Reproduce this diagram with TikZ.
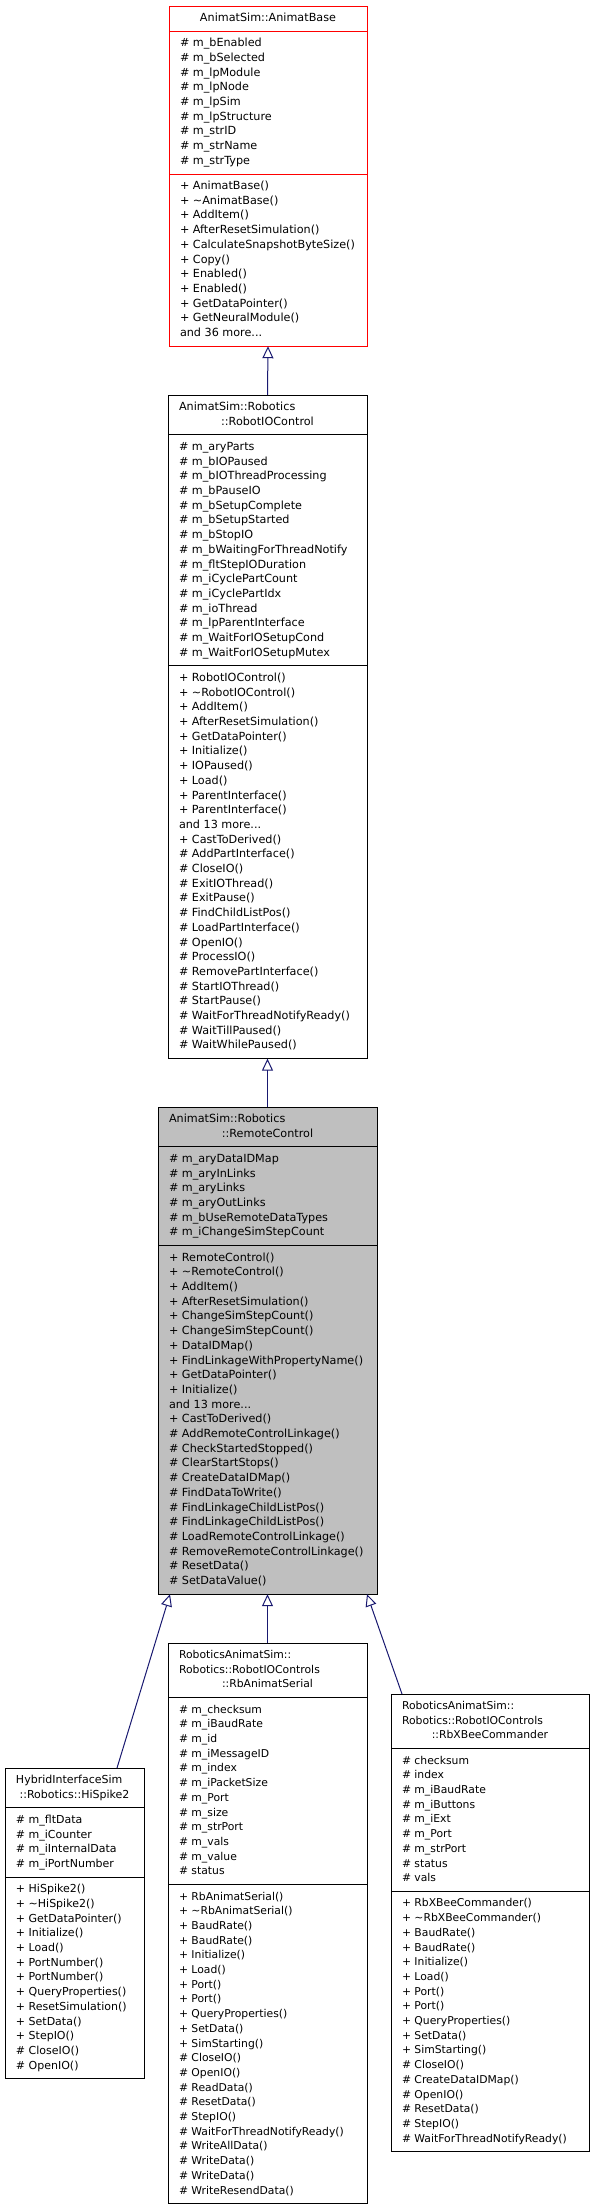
\documentclass[tikz,border=0pt]{standalone}
\usepackage{fontspec}
\newfontfamily\dxfont{DejaVu Sans}
\usetikzlibrary{arrows.meta,calc}
\definecolor{dxblue}{RGB}{25,25,112}
\definecolor{dxgray}{RGB}{191,191,191}
\newcommand\tld{\textasciitilde}
\begin{document}
\begin{tikzpicture}[x=1pt,y=-1pt,
  comp/.style={draw=black, line width=1pt, inner sep=0pt, outer sep=0pt, anchor=north west, minimum width=#1},
  redcomp/.style={comp=#1, draw=red},
  graycomp/.style={comp=#1, fill=dxgray},
  txt/.style={anchor=north west, inner sep=0pt, outer sep=0pt, align=left},
  ctxt/.style={anchor=north, inner sep=0pt, outer sep=0pt},
  fa/.style={font=\dxfont\fontsize{11.2}{14.7}\selectfont},
  fd/.style={font=\dxfont\fontsize{10.8}{14.7}\selectfont},
  fe/.style={font=\dxfont\fontsize{11}{14.7}\selectfont},
  inh/.style={draw=dxblue, line width=1pt, -{Triangle[open, length=12pt, width=11pt]}}
]
\useasboundingbox (0,0) rectangle (595,2209);

% ---------- AnimatBase ----------
\node[redcomp=198, minimum height=25.2] (At) at (169,6) {};
\node[redcomp=198, minimum height=142.8] (Aa) at (At.south west) {};
\node[redcomp=198, minimum height=172.2] (Am) at (Aa.south west) {};
\node[fa, ctxt] (Att) at ($(At.north)+(0,5.25)$) {\strut AnimatSim::AnimatBase};
\node[fa, txt] (Aat) at ($(Aa.north west)+(11,5.25)$) {\strut\# m\_bEnabled\\\# m\_bSelected\\\# m\_lpModule\\\# m\_lpNode\\\# m\_lpSim\\\# m\_lpStructure\\\# m\_strID\\\# m\_strName\\\# m\_strType};
\node[fa, txt] (Amt) at ($(Am.north west)+(11,5.25)$) {\strut + AnimatBase()\\+ \tld AnimatBase()\\+ AddItem()\\+ AfterResetSimulation()\\+ CalculateSnapshotByteSize()\\+ Copy()\\+ Enabled()\\+ Enabled()\\+ GetDataPointer()\\+ GetNeuralModule()\\and 36 more...};

% ---------- RobotIOControl ----------
\node[comp=199, minimum height=39.9] (Bt) at (168,395) {};
\node[comp=199, minimum height=231] (Ba) at (Bt.south west) {};
\node[comp=199, minimum height=392.7] (Bm) at (Ba.south west) {};
\node[fa, txt] (Btt) at ($(Bt.north west)+(11,5.25)$) {\strut AnimatSim::Robotics};
\node[fa, ctxt] (Btc) at ($(Bt.north)+(0,19.95)$) {\strut ::RobotIOControl};
\node[fa, txt] (Bat) at ($(Ba.north west)+(11,5.25)$) {\strut\# m\_aryParts\\\# m\_bIOPaused\\\# m\_bIOThreadProcessing\\\# m\_bPauseIO\\\# m\_bSetupComplete\\\# m\_bSetupStarted\\\# m\_bStopIO\\\# m\_bWaitingForThreadNotify\\\# m\_fltStepIODuration\\\# m\_iCyclePartCount\\\# m\_iCyclePartIdx\\\# m\_ioThread\\\# m\_lpParentInterface\\\# m\_WaitForIOSetupCond\\\# m\_WaitForIOSetupMutex};
\node[fa, txt] (Bmt) at ($(Bm.north west)+(11,5.25)$) {\strut + RobotIOControl()\\+ \tld RobotIOControl()\\+ AddItem()\\+ AfterResetSimulation()\\+ GetDataPointer()\\+ Initialize()\\+ IOPaused()\\+ Load()\\+ ParentInterface()\\+ ParentInterface()\\and 13 more...\\+ CastToDerived()\\\# AddPartInterface()\\\# CloseIO()\\\# ExitIOThread()\\\# ExitPause()\\\# FindChildListPos()\\\# LoadPartInterface()\\\# OpenIO()\\\# ProcessIO()\\\# RemovePartInterface()\\\# StartIOThread()\\\# StartPause()\\\# WaitForThreadNotifyReady()\\\# WaitTillPaused()\\\# WaitWhilePaused()};

% ---------- RemoteControl ----------
\node[graycomp=219, minimum height=39.9] (Ct) at (158,1107) {};
\node[graycomp=219, minimum height=98.7] (Ca) at (Ct.south west) {};
\node[graycomp=219, minimum height=348.6] (Cm) at (Ca.south west) {};
\node[fa, txt] (Ctt) at ($(Ct.north west)+(11,5.25)$) {\strut AnimatSim::Robotics};
\node[fa, ctxt] (Ctc) at ($(Ct.north)+(0,19.95)$) {\strut ::RemoteControl};
\node[fa, txt] (Cat) at ($(Ca.north west)+(11,5.25)$) {\strut\# m\_aryDataIDMap\\\# m\_aryInLinks\\\# m\_aryLinks\\\# m\_aryOutLinks\\\# m\_bUseRemoteDataTypes\\\# m\_iChangeSimStepCount};
\node[fa, txt] (Cmt) at ($(Cm.north west)+(11,5.25)$) {\strut + RemoteControl()\\+ \tld RemoteControl()\\+ AddItem()\\+ AfterResetSimulation()\\+ ChangeSimStepCount()\\+ ChangeSimStepCount()\\+ DataIDMap()\\+ FindLinkageWithPropertyName()\\+ GetDataPointer()\\+ Initialize()\\and 13 more...\\+ CastToDerived()\\\# AddRemoteControlLinkage()\\\# CheckStartedStopped()\\\# ClearStartStops()\\\# CreateDataIDMap()\\\# FindDataToWrite()\\\# FindLinkageChildListPos()\\\# FindLinkageChildListPos()\\\# LoadRemoteControlLinkage()\\\# RemoveRemoteControlLinkage()\\\# ResetData()\\\# SetDataValue()};

% ---------- RbAnimatSerial ----------
\node[comp=199, minimum height=54.6] (Dt) at (168,1643) {};
\node[comp=199, minimum height=186.9] (Da) at (Dt.south west) {};
\node[comp=199, minimum height=319.2] (Dm) at (Da.south west) {};
\node[fd, txt] (Dtt) at ($(Dt.north west)+(11,5.25)$) {\strut RoboticsAnimatSim::\\Robotics::RobotIOControls};
\node[fd, ctxt] (Dtc) at ($(Dt.north)+(0,34.65)$) {\strut ::RbAnimatSerial};
\node[fd, txt] (Dat) at ($(Da.north west)+(11,5.25)$) {\strut\# m\_checksum\\\# m\_iBaudRate\\\# m\_id\\\# m\_iMessageID\\\# m\_index\\\# m\_iPacketSize\\\# m\_Port\\\# m\_size\\\# m\_strPort\\\# m\_vals\\\# m\_value\\\# status};
\node[fd, txt] (Dmt) at ($(Dm.north west)+(11,5.25)$) {\strut + RbAnimatSerial()\\+ \tld RbAnimatSerial()\\+ BaudRate()\\+ BaudRate()\\+ Initialize()\\+ Load()\\+ Port()\\+ Port()\\+ QueryProperties()\\+ SetData()\\+ SimStarting()\\\# CloseIO()\\\# OpenIO()\\\# ReadData()\\\# ResetData()\\\# StepIO()\\\# WaitForThreadNotifyReady()\\\# WriteAllData()\\\# WriteData()\\\# WriteData()\\\# WriteResendData()};

% ---------- HiSpike2 ----------
\node[comp=139, minimum height=39.9] (Et) at (5,1768) {};
\node[comp=139, minimum height=69.3] (Ea) at (Et.south west) {};
\node[comp=139, minimum height=201.6] (Em) at (Ea.south west) {};
\node[fe, txt] (Ett) at ($(Et.north west)+(11,5.25)$) {\strut HybridInterfaceSim};
\node[fe, ctxt] (Etc) at ($(Et.north)+(0,19.95)$) {\strut ::Robotics::HiSpike2};
\node[fe, txt] (Eat) at ($(Ea.north west)+(11,5.25)$) {\strut\# m\_fltData\\\# m\_iCounter\\\# m\_iInternalData\\\# m\_iPortNumber};
\node[fe, txt] (Emt) at ($(Em.north west)+(11,5.25)$) {\strut + HiSpike2()\\+ \tld HiSpike2()\\+ GetDataPointer()\\+ Initialize()\\+ Load()\\+ PortNumber()\\+ PortNumber()\\+ QueryProperties()\\+ ResetSimulation()\\+ SetData()\\+ StepIO()\\\# CloseIO()\\\# OpenIO()};

% ---------- RbXBeeCommander ----------
\node[comp=198, minimum height=54.6] (Ft) at (391,1694) {};
\node[comp=198, minimum height=142.8] (Fa) at (Ft.south west) {};
\node[comp=198, minimum height=260.4] (Fm) at (Fa.south west) {};
\node[fd, txt] (Ftt) at ($(Ft.north west)+(11,5.25)$) {\strut RoboticsAnimatSim::\\Robotics::RobotIOControls};
\node[fd, ctxt] (Ftc) at ($(Ft.north)+(0,34.65)$) {\strut ::RbXBeeCommander};
\node[fd, txt] (Fat) at ($(Fa.north west)+(11,5.25)$) {\strut\# checksum\\\# index\\\# m\_iBaudRate\\\# m\_iButtons\\\# m\_iExt\\\# m\_Port\\\# m\_strPort\\\# status\\\# vals};
\node[fd, txt] (Fmt) at ($(Fm.north west)+(11,5.25)$) {\strut + RbXBeeCommander()\\+ \tld RbXBeeCommander()\\+ BaudRate()\\+ BaudRate()\\+ Initialize()\\+ Load()\\+ Port()\\+ Port()\\+ QueryProperties()\\+ SetData()\\+ SimStarting()\\\# CloseIO()\\\# CreateDataIDMap()\\\# OpenIO()\\\# ResetData()\\\# StepIO()\\\# WaitForThreadNotifyReady()};

% ---------- inheritance connectors ----------
\draw[inh] (Bt.north) -- (Am.south);
\draw[inh] (Ct.north) -- (Bm.south);
\draw[inh] (Dt.north) -- (Cm.south);
\coordinate (cL) at ($(Cm.south west)+(12,0)$);
\coordinate (eT) at ($(Et.north west)+(112,0)$);
\draw[inh] (eT) -- (cL);
\coordinate (cR) at ($(Cm.south east)+(-10,0)$);
\coordinate (fT) at ($(Ft.north west)+(11,0)$);
\draw[inh] (fT) -- (cR);
\end{tikzpicture}
\end{document}
